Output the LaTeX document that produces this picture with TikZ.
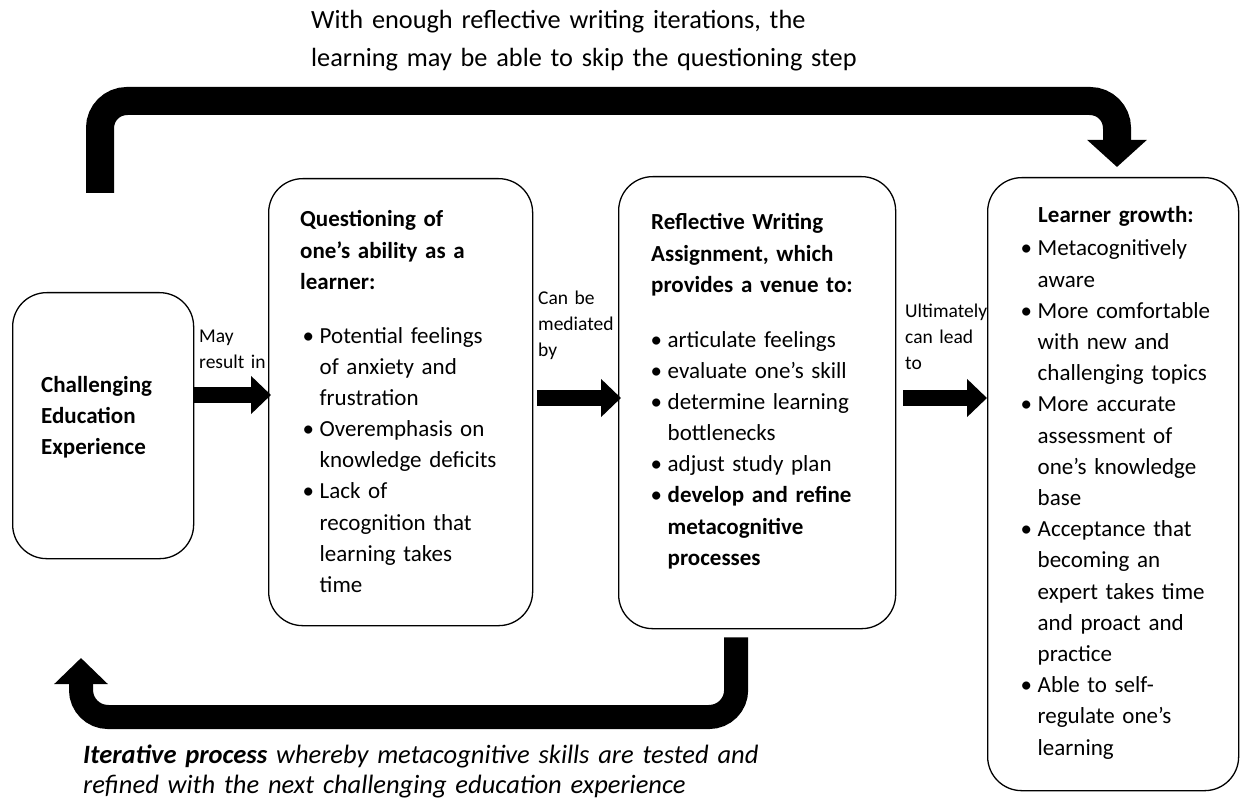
\documentclass[tikz,border=0pt]{standalone}
\usepackage{fontspec}
\setmainfont{Carlito}
\usetikzlibrary{arrows.meta}
\newcommand{\bul}[1]{{\leftskip=14.5pt\noindent\hspace*{-14.5pt}\makebox[14.5pt][l]{\hspace{-2.5pt}\textbullet}#1\par}}

\begin{document}
\begin{tikzpicture}[x=1pt,y=-1pt,
		stagebox/.style={draw, line width=1.3pt, rounded corners=34pt, anchor=north west, inner sep=0pt},
		boxtext/.style={anchor=base west, inner sep=0pt, align=left, text width=#1, font=\fontsize{23}{31.2}\selectfont},
		boxtext/.default=240pt,
		linktext/.style={anchor=base west, inner sep=0pt, align=left, text width=90pt, font=\fontsize{19.5}{26}\selectfont},
		bigtext/.style={anchor=base west, inner sep=0pt, align=left, text width=760pt, font=\fontsize{26.3}{38}\selectfont},
		blockarrow/.style={line width=16pt, -{Triangle[width=37pt,length=20pt]}},
		looparrow/.style={line width=#1, rounded corners=27pt}]
		\useasboundingbox (0,0) rectangle (1243,805);
		\node[stagebox, minimum width=181pt, minimum height=266pt] (cee) at (12,292) {};
		\node[stagebox, minimum width=264pt, minimum height=447pt] (qbox) at (268,178) {};
		\node[stagebox, minimum width=277pt, minimum height=452pt] (rwbox) at (618,176) {};
		\node[stagebox, minimum width=251pt, minimum height=613pt] (lgbox) at (987,177) {};
		\node[boxtext=150pt] (ceetext) at (41,392) {\bfseries Challenging\\Education\\Experience};
		\node[linktext] (maylabel) at (199,342) {May\\result in};
		\node[boxtext] (qhead) at (300,227) {\bfseries Questioning of\\one’s ability as a\\learner:};
		\node[boxtext] (qlist) at (305,343) {\bul{Potential feelings\\of anxiety and\\frustration}\bul{Overemphasis on\\knowledge deficits}\bul{Lack of\\recognition that\\learning takes\\time}};
		\node[linktext] (medlabel) at (538,305) {Can be\\mediated\\by};
		\node[boxtext] (rwhead) at (651,230) {\bfseries Reflective Writing\\Assignment, which\\provides a venue to:};
		\node[boxtext] (rwlist) at (653,347) {\bul{articulate feelings}\bul{evaluate one’s skill}\bul{determine learning\\bottlenecks}\bul{adjust study plan}\bul{\bfseries develop and refine\\metacognitive\\processes}};
		\node[linktext] (leadlabel) at (905,317) {Ultimately\\can lead\\to};
		\node[boxtext] (lghead) at (1038,223) {\bfseries Learner growth:};
		\node[boxtext] (lglist) at (1023,256) {\bul{Metacognitively\\aware}\bul{More comfortable\\with new and\\challenging topics}\bul{More accurate\\assessment of\\one’s knowledge\\base}\bul{Acceptance that\\becoming an\\expert takes time\\and proact and\\practice}\bul{Able to self-\\regulate one’s\\learning}};
		\node[bigtext] (skiptext) at (311,29) {With enough reflective writing iterations, the\\learning may be able to skip the questioning step};
		\node[bigtext, font=\fontsize{26.5}{30}\selectfont\itshape] (itertext) at (83,763) {\textbf{Iterative process} whereby metacognitive skills are tested and\\refined with the next challenging education experience};
		\coordinate (skipstart) at (100,193);
		\coordinate (itertip) at (81,658);
		\draw[blockarrow] (cee.east |- 0,395) -- ([xshift=3pt]qbox.west |- 0,395);
		\draw[blockarrow] ([xshift=4pt]qbox.east |- 0,398) -- ([xshift=3pt]rwbox.west |- 0,398);
		\draw[blockarrow] ([xshift=7pt]rwbox.east |- 0,398) -- (lgbox.west |- 0,398);
		\draw[looparrow=28pt, -{Triangle[width=58pt,length=27pt]}] (skipstart) |- (1117,101) -- ([yshift=10pt]lgbox.north -| 1117,0);
		\draw[looparrow=24pt, -{Triangle[width=52pt,length=26pt]}] ([xshift=-21pt,yshift=-8pt]rwbox.south) |- (itertip |- 0,717) -- (itertip);
	\end{tikzpicture}
\end{document}
